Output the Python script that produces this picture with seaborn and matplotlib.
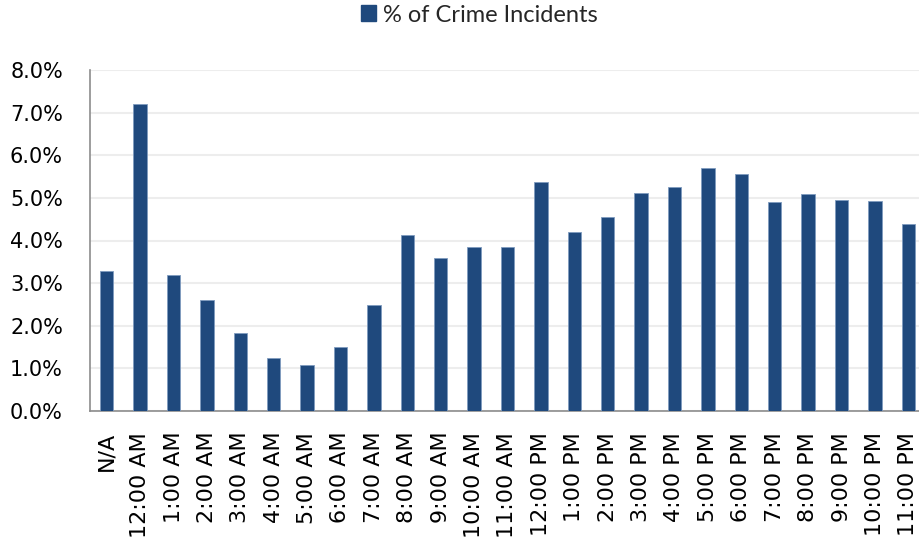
import matplotlib
matplotlib.use("Agg")
import matplotlib.pyplot as plt
from matplotlib.ticker import PercentFormatter, FixedLocator
from matplotlib.patches import Patch
import seaborn as sns
import pandas as pd

hours = ["N/A", "12:00 AM", "1:00 AM", "2:00 AM", "3:00 AM", "4:00 AM", "5:00 AM",
         "6:00 AM", "7:00 AM", "8:00 AM", "9:00 AM", "10:00 AM", "11:00 AM",
         "12:00 PM", "1:00 PM", "2:00 PM", "3:00 PM", "4:00 PM", "5:00 PM",
         "6:00 PM", "7:00 PM", "8:00 PM", "9:00 PM", "10:00 PM", "11:00 PM"]
pct_incidents = [3.29, 7.20, 3.18, 2.60, 1.82, 1.25, 1.07, 1.49, 2.48, 4.12, 3.60,
                 3.84, 3.85, 5.37, 4.19, 4.55, 5.12, 5.25, 5.70, 5.56, 4.91, 5.08,
                 4.96, 4.93, 4.39]
series_name = "% of Crime Incidents"
y_ticks = [0, 1, 2, 3, 4, 5, 6, 7, 8]

bar_color = "#1F497D"
axis_gray = "#8C8C8C"

df = pd.DataFrame({"hour": hours, "pct": pct_incidents})

sns.set_theme(style="white")
plt.rcParams["font.family"] = ["DejaVu Sans"]

fig = plt.figure(figsize=(9.2, 5.37), dpi=100)
ax = fig.add_axes([90 / 920, 1 - 411 / 537, 835 / 920, 341 / 537])

sns.barplot(data=df, x="hour", y="pct", color=bar_color, width=0.4,
            saturation=1, edgecolor="#7F9BBF", linewidth=0.6, ax=ax, zorder=3)

ax.set_xlim(-0.5, len(hours) - 0.5)
ax.set_ylim(0, 8)
ax.yaxis.set_major_locator(FixedLocator(y_ticks))
ax.yaxis.set_major_formatter(PercentFormatter(decimals=1))
ax.grid(axis="y", color="#EDEDED", linewidth=1.5, zorder=0)
ax.set_axisbelow(True)

ax.set_xlabel("")
ax.set_ylabel("")
ax.tick_params(axis="x", which="major", length=0, pad=15, labelsize=16,
               labelrotation=90, colors="black")
ax.set_xticks([i - 0.5 for i in range(len(hours) + 1)], minor=True)
ax.tick_params(axis="x", which="minor", length=5, width=1.2, color=axis_gray,
               direction="out")
ax.tick_params(axis="y", length=6.5, width=1.2, color=axis_gray, labelsize=15,
               pad=13, labelcolor="black")

for side in ["top", "right"]:
    ax.spines[side].set_visible(False)
for side in ["left", "bottom"]:
    ax.spines[side].set_color(axis_gray)
    ax.spines[side].set_linewidth(1.2)

handle = Patch(facecolor=bar_color, edgecolor=bar_color, label=series_name)
fig.legend(handles=[handle], loc="center", bbox_to_anchor=(0.521, 1 - 15 / 537),
           frameon=False, prop={"family": "Lato", "size": 17},
           handlelength=0.65, handleheight=0.65, handletextpad=0.3,
           borderpad=0, borderaxespad=0)

fig.savefig("out.png", dpi=100)
